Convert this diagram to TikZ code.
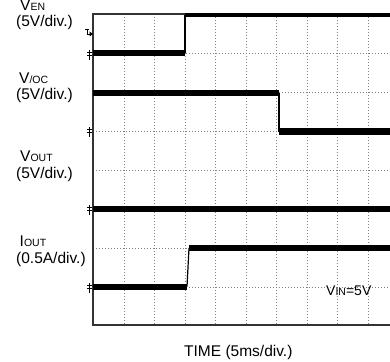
\documentclass[tikz,border=0pt]{standalone}
\usepackage{fontspec}
\setmainfont{Liberation Sans}
% smaller capitals after the V / I
\newcommand{\smcap}[1]{{\fontsize{10.5}{12}\selectfont #1}}
\begin{document}
\begin{tikzpicture}[x=1pt, y=-1pt,
    lbl/.style={font=\fontsize{15.5}{17}\selectfont, inner sep=0pt, anchor=base west},
    gridline/.style={gray, line width=0.8pt, dash pattern=on 1pt off 2pt},
    frame/.style={black!80, line width=1.2pt},
    trace/.style={line width=6pt},
    edge/.style={line width=1.2pt},
    gnd/.style={line width=0.7pt}]
    \useasboundingbox (0,0) rectangle (390,361);
    % Dotted grid
    \foreach \x in {124,154,185,215,246,276,307,337,368}
        \draw[gridline] (\x,14) -- (\x,325);
    \foreach \y in {53,92,131,170,209,248,287}
        \draw[gridline] (93,\y) -- (390,\y);
    % Frame: top, left and bottom
    \draw[frame] (390,14) -- (93,14) -- (93,325) -- (390,325);
    % Ground markers on the left edge
    \foreach \y in {55,132,210,288}
        \draw[gnd] (87,\y-3) -- (92,\y-3) (87,\y) -- (92,\y) (89.5,\y-5) -- (89.5,\y+5);
    % Trigger marker
    \draw[gnd] (85,29) -- (89,29) (87,29) -- (87,34) -- (90,34);
    \fill (89.5,31.5) -- (93,34) -- (89.5,36.5) -- cycle;
    % VEN: low, then high
    \draw[trace] (93,53) -- (185,53);
    \draw[edge] (185,53) -- (185,15);
    \draw[line width=4pt] (185,15) -- (390,15);
    % V/OC: high, then low
    \draw[trace] (93,93) -- (279,93);
    \draw[edge] (279,93) -- (279,131.5);
    \draw[line width=7pt] (279,131.5) -- (390,131.5);
    % VOUT stays flat
    \draw[trace] (93,208.5) -- (390,208.5);
    % IOUT: low, then high
    \draw[trace] (93,286.5) -- (187,286.5);
    \draw[edge] (187,286.5) -- (189,248);
    \draw[trace] (189,248) -- (390,248);
    % Channel labels
    \node[lbl] (ven) at (20,11) {V\smcap{EN}};
    \node[lbl] (vendiv) at (16,27) {(5V/div.)};
    \node[lbl] (voc) at (19,83) {V\smcap{/OC}};
    \node[lbl] (vocdiv) at (16,99) {(5V/div.)};
    \node[lbl] (vout) at (20,161) {V\smcap{OUT}};
    \node[lbl] (voutdiv) at (16,178) {(5V/div.)};
    \node[lbl] (iout) at (19.5,246) {I\smcap{OUT}};
    \node[lbl] (ioutdiv) at (16,263) {(0.5A/div.)};
    % Input voltage and time axis
    \node[lbl, font=\fontsize{14}{16}\selectfont] (vin) at (326,295) {V\smcap{IN}=5V};
    \node[lbl] (time) at (184,356) {TIME (5ms/div.)};
\end{tikzpicture}
\end{document}
